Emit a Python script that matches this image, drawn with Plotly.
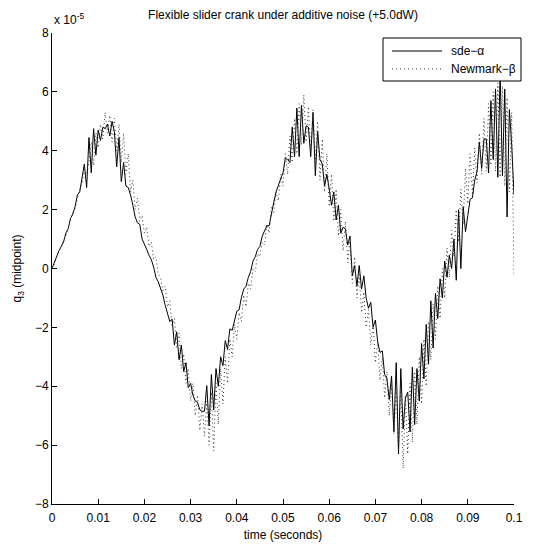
import plotly.graph_objects as go

# time axis: 0 .. 0.1 s in steps of 0.5 ms
dt = 0.0005
n_steps = 201
time_s = [round(i * dt, 6) for i in range(n_steps)]

# midpoint deflection q3, in units of 1e-5
sde_alpha = [
    0.0, 0.2, 0.45, 0.6, 0.75, 0.9, 1.2, 1.35, 1.7, 1.85,
    2.1, 2.5, 2.6, 3.1, 3.55, 2.75, 4.45, 3.25, 4.75, 3.85,
    4.7, 4.35, 4.8, 4.75, 4.9, 4.5, 5.0, 4.65, 3.45, 4.45,
    2.95, 3.6, 2.8, 2.75, 2.5, 2.15, 1.75, 1.55, 1.5, 1.0,
    0.85, 0.65, 0.45, 0.3, 0.05, -0.3, -0.45, -0.7, -0.9, -1.25,
    -1.5, -1.8, -1.72, -2.6, -2.15, -3.1, -2.6, -3.5, -3.2, -4.05,
    -3.9, -4.3, -4.5, -4.55, -4.8, -4.85, -4.85, -3.98, -5.35, -3.6,
    -4.8, -3.4, -4.0, -3.0, -3.3, -2.45, -2.75, -2.05, -2.1, -1.8,
    -1.45, -1.4, -0.98, -0.7, -0.6, -0.3, -0.1, 0.25, 0.4, 0.65,
    0.75, 1.1, 1.3, 1.45, 1.45, 1.9, 2.25, 2.6, 2.85, 3.05,
    3.25, 3.75, 3.7, 3.6, 4.8, 3.8, 5.45, 3.8, 5.55, 4.25,
    4.85, 4.8, 3.8, 5.3, 3.15, 4.65, 3.7, 3.55, 2.8, 3.2,
    2.7, 2.15, 2.6, 1.65, 2.15, 1.2, 1.4, 1.35, 0.8, 1.1,
    -0.25, 0.1, -0.6, 0.1, -0.7, -0.25, -1.0, -1.35, -1.15, -2.0,
    -1.75, -2.5, -2.85, -2.8, -3.6, -3.75, -4.45, -3.65, -5.55, -3.2,
    -6.3, -3.4, -5.45, -4.4, -4.2, -5.55, -3.35, -5.3, -3.4, -4.5,
    -2.55, -3.75, -1.9, -3.25, -1.1, -2.7, -0.85, -1.7, -0.35, -1.0,
    0.25, -0.3, 0.45, 0.0, 1.0, -0.4, 2.0, 0.0, 2.1, 1.25,
    1.8, 2.35, 2.4, 3.0, 3.3, 4.3, 3.4, 4.4, 4.4, 3.25,
    5.7, 3.7, 6.1, 3.1, 6.7, 3.15, 6.1, 1.75, 5.4, 4.2,
    2.5,
]

newmark_beta = [
    0.0, 0.15, 0.4, 0.6, 0.7, 0.95, 1.1, 1.4, 1.6, 1.9,
    2.05, 2.4, 2.7, 2.9, 3.3, 3.2, 3.6, 4.3, 3.5, 4.6,
    4.1, 4.9, 4.4, 5.3, 4.6, 5.2, 4.3, 5.1, 4.0, 4.9,
    3.6, 4.6, 3.2, 3.9, 2.6, 3.0, 2.0, 2.4, 1.6, 1.8,
    1.2, 1.4, 0.75, 0.9, 0.3, 0.4, -0.2, -0.3, -0.75, -0.6,
    -1.3, -1.1, -2.0, -1.7, -2.7, -2.2, -3.4, -2.9, -3.9, -3.4,
    -4.5, -3.9, -5.0, -4.3, -5.5, -4.6, -5.7, -4.5, -6.0, -4.2,
    -6.2, -3.9, -5.3, -3.4, -4.6, -3.0, -3.9, -2.4, -3.0, -1.9,
    -2.4, -1.5, -1.8, -0.9, -1.3, -0.5, -0.7, 0.0, -0.1, 0.5,
    0.4, 0.9, 0.8, 1.5, 1.2, 2.1, 1.9, 2.6, 2.3, 3.2,
    2.8, 3.9, 3.2, 4.5, 3.6, 5.1, 3.9, 5.6, 4.2, 5.9,
    4.3, 5.5, 4.0, 5.4, 3.6, 5.0, 3.0, 4.4, 2.6, 3.9,
    2.1, 3.2, 1.6, 2.7, 1.1, 2.0, 0.6, 1.6, 0.2, 1.0,
    -0.5, 0.4, -1.0, -0.2, -1.5, -0.8, -2.0, -1.4, -2.6, -1.9,
    -3.2, -2.5, -3.8, -3.0, -4.4, -3.5, -5.0, -3.9, -5.6, -4.1,
    -6.2, -4.0, -6.8, -4.3, -6.3, -3.9, -5.9, -3.5, -5.3, -3.0,
    -4.6, -2.4, -4.0, -1.8, -3.1, -1.2, -2.4, -0.6, -1.7, 0.0,
    -1.0, 0.7, -0.3, 1.3, 0.4, 2.0, 0.9, 2.7, 1.5, 3.4,
    2.2, 3.9, 2.5, 4.1, 2.9, 4.6, 3.2, 5.1, 3.3, 5.6,
    3.5, 6.0, 3.3, 6.3, 3.1, 6.2, 2.8, 5.8, 2.6, 5.3,
    -0.2,
]

series_names = ["sde\u2212\u03b1", "Newmark\u2212\u03b2"]

x_tick_vals = [0.0, 0.01, 0.02, 0.03, 0.04, 0.05, 0.06, 0.07, 0.08, 0.09, 0.1]
x_tick_text = ["0", "0.01", "0.02", "0.03", "0.04", "0.05", "0.06", "0.07", "0.08", "0.09", "0.1"]
y_tick_vals = [-8, -6, -4, -2, 0, 2, 4, 6, 8]
y_tick_text = ["\u22128", "\u22126", "\u22124", "\u22122", "0", "2", "4", "6", "8"]

FONT = "Liberation Sans, Arial, Helvetica, sans-serif"
FS = 12
W, H = 537, 544
ML, MR, MT, MB = 52, 23, 33, 40
PW, PH = W - ML - MR, H - MT - MB

SOLID = dict(color="black", width=1)
DOTTED = dict(color="#333333", width=1, dash="1px,3px")


def px_x(p):
    """pixel column -> paper x"""
    return (p - ML) / PW


def px_y(p):
    """pixel row -> paper y"""
    return (H - MB - p) / PH


fig = go.Figure()
fig.add_trace(go.Scatter(x=time_s, y=sde_alpha, mode="lines",
                         name=series_names[0], line=SOLID))
fig.add_trace(go.Scatter(x=time_s, y=newmark_beta, mode="lines",
                         name=series_names[1], line=DOTTED))

axis_common = dict(
    showline=True, linecolor="black", linewidth=1, mirror=False,
    ticks="inside", ticklen=5, tickcolor="black", tickwidth=1,
    showgrid=False, zeroline=False, automargin=False,
    tickfont=dict(family=FONT, size=FS, color="black"),
)

# boxed legend in the upper right corner
box_x0, box_x1, box_y0, box_y1 = 383, 521, 38, 81
rows_y = [51, 69]
sample_x0, sample_x1, text_x = 392, 442, 449
shapes = [dict(type="rect", xref="paper", yref="paper", layer="above",
               x0=px_x(box_x0), x1=px_x(box_x1), y0=px_y(box_y1), y1=px_y(box_y0),
               line=dict(color="black", width=1), fillcolor="white")]
annotations = []
for name, ry, style in zip(series_names, rows_y, [SOLID, DOTTED]):
    shapes.append(dict(type="line", xref="paper", yref="paper", layer="above",
                       x0=px_x(sample_x0), x1=px_x(sample_x1),
                       y0=px_y(ry), y1=px_y(ry), line=style))
    annotations.append(dict(text=name, xref="paper", yref="paper",
                            x=px_x(text_x), y=px_y(ry), xanchor="left",
                            yanchor="middle", showarrow=False,
                            font=dict(size=FS, family=FONT, color="black")))

# axis multiplier above the y axis
annotations.append(dict(text="x 10<sup>-5</sup>", xref="paper", yref="paper",
                        x=px_x(52), y=px_y(19), xanchor="left", yanchor="middle",
                        showarrow=False,
                        font=dict(size=FS, family=FONT, color="black")))

fig.update_layout(
    width=W, height=H,
    margin=dict(l=ML, r=MR, t=MT, b=MB, autoexpand=False),
    paper_bgcolor="white", plot_bgcolor="white",
    font=dict(family=FONT, size=FS, color="black"),
    showlegend=False,
    title=dict(
        text="Flexible slider crank under additive noise (+5.0dW)",
        x=283 / W, xanchor="center", y=1 - 15 / H, yanchor="middle",
        yref="container", font=dict(size=FS, family=FONT, color="black"),
    ),
    xaxis=dict(
        range=[0, 0.1], tickvals=x_tick_vals, ticktext=x_tick_text,
        ticklabelstandoff=3,
        title=dict(text="time (seconds)", standoff=6,
                   font=dict(size=FS, family=FONT, color="black")),
        **axis_common,
    ),
    yaxis=dict(
        range=[-8, 8], tickvals=y_tick_vals, ticktext=y_tick_text,
        title=dict(text="q<sub>3</sub> (midpoint)", standoff=10,
                   font=dict(size=FS, family=FONT, color="black")),
        **axis_common,
    ),
    shapes=shapes,
    annotations=annotations,
)

fig.write_html("out.html")
